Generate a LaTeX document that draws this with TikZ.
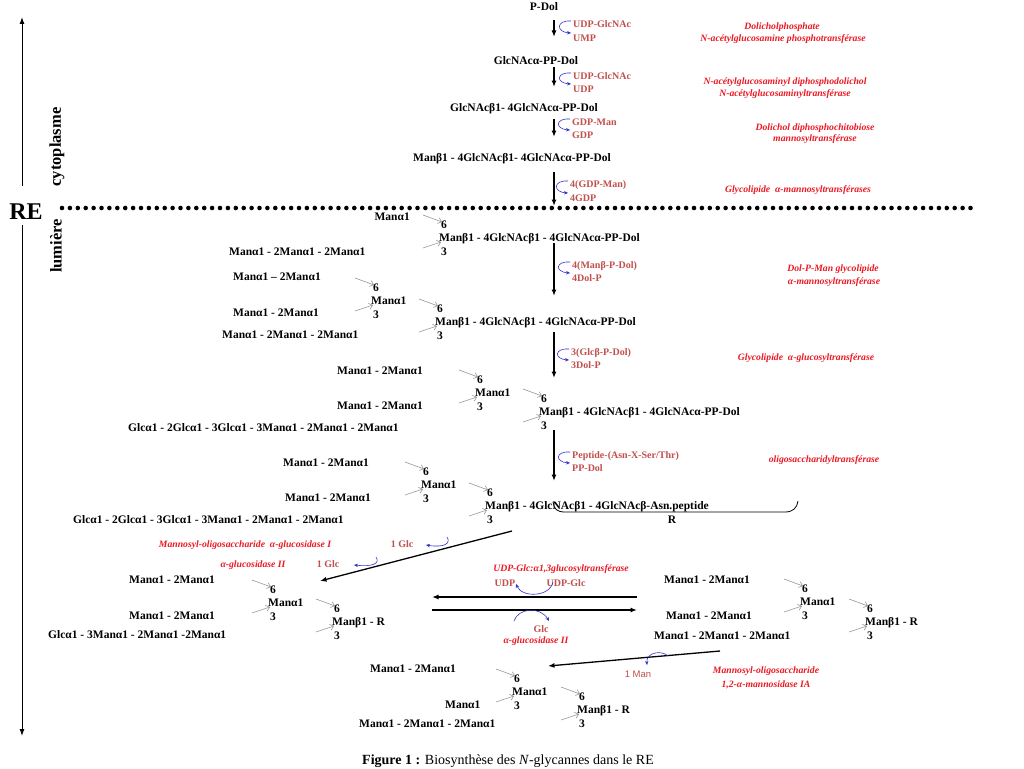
\documentclass[tikz,border=0pt]{standalone}
\usepackage{fontspec}
\setmainfont{Liberation Serif}
\newfontfamily\arialfont{Liberation Sans}
\usetikzlibrary{arrows.meta}
\definecolor{brn}{RGB}{192,80,77}
\definecolor{enzred}{RGB}{235,25,35}
\definecolor{cblue}{RGB}{50,50,205}
\definecolor{cgray}{RGB}{150,150,150}
\tikzset{
 blk/.style={font=\bfseries\fontsize{11.5}{13}\selectfont, inner sep=0pt},
 bl/.style={blk, anchor=base west},
 bc/.style={blk, anchor=base},
 brlab/.style={font=\bfseries\fontsize{10}{12}\selectfont, text=brn, inner sep=0pt, anchor=base west},
 brc/.style={brlab, anchor=base},
 enz/.style={font=\bfseries\itshape\fontsize{9.7}{11}\selectfont, text=enzred, inner sep=0pt, anchor=base},
 garr/.style={draw=cgray, line width=0.6pt, -{Straight Barb[length=3.5pt,width=6pt]}},
 barr/.style={draw=cblue, line width=0.6pt, -{Stealth[length=4pt,width=3.5pt]}},
 karr/.style={draw=black, line width=1.3pt, -{Latex[length=6.5pt,width=5pt]}},
}
\newcommand\branchpt[3]{%
 \node[bl] (#1six) at (#2+2,#3-9) {6};
 \node[bl] (#1three) at (#2+2,#3+18) {3};
 \coordinate (#1ua) at (#2-16,#3-22);
 \coordinate (#1ub) at (#2+3,#3-15);
 \coordinate (#1la) at (#2-16,#3+11);
 \coordinate (#1lb) at (#2+2,#3+5);
 \draw[garr] (#1ua) -- (#1ub);
 \draw[garr] (#1la) -- (#1lb);
}
\newcommand\bcurve[4]{%
 \coordinate (#1s) at (#2,#3-3);
 \coordinate (#1e) at (#2,#4-5);
 \draw[barr] (#1s) .. controls +(-15,-1) and +(-15,-1) .. (#1e);
}
\newcommand\varrow[3]{%
 \coordinate (#1s) at (554,#2);
 \coordinate (#1e) at (554,#3);
 \draw[karr] (#1s) -- (#1e);
}
\begin{document}
\begin{tikzpicture}[x=1pt,y=-1pt]
\useasboundingbox (0,0) rectangle (1024,768);
\fill[white] (0,0) rectangle (1024,768);

% left axis
\coordinate (axtop) at (22,17);
\coordinate (axmidA) at (22,186);
\draw[line width=1pt, -{Latex[length=7pt,width=5pt]}] (axmidA) -- (axtop);
\node[font=\bfseries\fontsize{24}{27}\selectfont, inner sep=0pt] (re) at (26,212) {RE};
\coordinate (axmidB) at (22,225);
\coordinate (axbot) at (22,736);
\draw[line width=1pt, -{Latex[length=7pt,width=5pt]}] (axmidB) -- (axbot);
\node[font=\bfseries\fontsize{16.5}{18}\selectfont, rotate=90, inner sep=0pt] (cyto) at (57,147) {cytoplasme};
\node[font=\bfseries\fontsize{16.5}{18}\selectfont, rotate=90, inner sep=0pt] (lum) at (56,246) {lumière};

% membrane
\coordinate (dl) at (62,208);
\coordinate (dr) at (975,208);
\draw[line width=4.6pt, line cap=round, dash pattern=on 0pt off 7.9pt] (dl) -- (dr);

% top chain
\node[bc] (pdol) at (544,11) {P-Dol};
\node[bc] (t2) at (536,64) {GlcNAcα-PP-Dol};
\node[bc] (t3) at (524,111) {GlcNAcβ1- 4GlcNAcα-PP-Dol};
\node[bc] (t4) at (512,161) {Manβ1 - 4GlcNAcβ1- 4GlcNAcα-PP-Dol};

\varrow{a1}{20}{37}
\varrow{a2}{67}{87}
\varrow{a3}{119}{137}
\varrow{a4}{172}{206}
\varrow{a5}{243}{296}
\varrow{a6}{332}{378}
\varrow{a7}{430}{481}

\bcurve{b1}{571}{24}{38}
\bcurve{b2}{571}{76}{89}
\bcurve{b3}{570}{122}{135}
\bcurve{b4}{568}{184}{198}
\bcurve{b5}{570}{265}{278}
\bcurve{b6}{569}{352}{365}
\bcurve{b7}{570}{455}{468}

\node[brlab] (c1a) at (573,27.5) {UDP-GlcNAc};
\node[brlab] (c1b) at (573,41.5) {UMP};
\node[brlab] (c2a) at (573,79.5) {UDP-GlcNAc};
\node[brlab] (c2b) at (573,92.5) {UDP};
\node[brlab] (c3a) at (572,125.5) {GDP-Man};
\node[brlab] (c3b) at (572,138.5) {GDP};
\node[brlab] (c4a) at (570,187.5) {4(GDP-Man)};
\node[brlab] (c4b) at (570,201.5) {4GDP};
\node[brlab] (c5a) at (572,268.5) {4(Manβ-P-Dol)};
\node[brlab] (c5b) at (572,281.5) {4Dol-P};
\node[brlab] (c6a) at (571,355.5) {3(Glcβ-P-Dol)};
\node[brlab] (c6b) at (571,368.5) {3Dol-P};
\node[brlab] (c7a) at (572,458.5) {Peptide-(Asn-X-Ser/Thr)};
\node[brlab] (c7b) at (572,471.5) {PP-Dol};

% enzymes
\node[enz] (e1a) at (782,29.5) {Dolicholphosphate};
\node[enz] (e1b) at (783,41.5) {N-acétylglucosamine phosphotransférase};
\node[enz] (e2a) at (785,84.5) {N-acétylglucosaminyl diphosphodolichol};
\node[enz] (e2b) at (785,96.5) {N-acétylglucosaminyltransférase};
\node[enz] (e3a) at (815,130.5) {Dolichol diphosphochitobiose};
\node[enz] (e3b) at (815,141.5) {mannosyltransférase};
\node[enz] (e4) at (798,192.5) {Glycolipide \ α-mannosyltransférases};
\node[enz] (e5a) at (833,271.5) {Dol-P-Man glycolipide};
\node[enz] (e5b) at (834,284.5) {α-mannosyltransférase};
\node[enz] (e6) at (806,360.5) {Glycolipide \ α-glucosyltransférase};
\node[enz] (e7) at (824,462.5) {oligosaccharidyltransférase};

% structure 1
\node[bl, anchor=base east] (s1u) at (410,220) {Manα1};
\node[bl] (s1l) at (229,255) {Manα1 - 2Manα1 - 2Manα1};
\node[bl] (s1c) at (439,241) {Manβ1 - 4GlcNAcβ1 - 4GlcNAcα-PP-Dol};
\branchpt{s1}{439}{237}

% structure 2
\node[bl] (s2u) at (233,280) {Manα1 – 2Manα1};
\node[bl] (s2m) at (233,316) {Manα1 - 2Manα1};
\node[bl] (s2i) at (371,304) {Manα1};
\branchpt{s2i}{371}{300}
\node[bl] (s2c) at (435,325) {Manβ1 - 4GlcNAcβ1 - 4GlcNAcα-PP-Dol};
\branchpt{s2c}{435}{321}
\node[bl] (s2l) at (222,338) {Manα1 - 2Manα1 - 2Manα1};

% structure 3
\node[bl] (s3u) at (337,374) {Manα1 - 2Manα1};
\node[bl] (s3m) at (337,409) {Manα1 - 2Manα1};
\node[bl] (s3i) at (475,396) {Manα1};
\branchpt{s3i}{475}{392}
\node[bl] (s3c) at (539,415) {Manβ1 - 4GlcNAcβ1 - 4GlcNAcα-PP-Dol};
\branchpt{s3c}{539}{411}
\node[bl] (s3l) at (128,431) {Glcα1 - 2Glcα1 - 3Glcα1 - 3Manα1 - 2Manα1 - 2Manα1};

% structure 4
\node[bl] (s4u) at (283,466) {Manα1 - 2Manα1};
\node[bl] (s4m) at (285,501) {Manα1 - 2Manα1};
\node[bl] (s4i) at (421,488) {Manα1};
\branchpt{s4i}{421}{484}
\node[bl] (s4c) at (485,509) {Manβ1 - 4GlcNAcβ1 - 4GlcNAcβ-Asn.peptide};
\branchpt{s4c}{485}{505}
\node[bl] (s4l) at (73,523) {Glcα1 - 2Glcα1 - 3Glcα1 - 3Manα1 - 2Manα1 - 2Manα1};
\coordinate (brL) at (553,502);
\coordinate (brR) at (798,501);
\draw[line width=0.8pt] (brL) .. controls (554,509) and (557,512) .. (565,512) -- (785,512) .. controls (793,512) and (797,508) .. (brR);
\node[bc] (rlab) at (672,523) {R};

% glucosidase step
\coordinate (d1s) at (512,531);
\coordinate (d1e) at (320,581);
\draw[karr] (d1s) -- (d1e);
\coordinate (g1s) at (447,537);
\coordinate (g1e) at (426,545);
\draw[barr] (g1s) .. controls (451,543) and (445,548) .. (g1e);
\coordinate (g2s) at (376,557);
\coordinate (g2e) at (354,565);
\draw[barr] (g2s) .. controls (380,563) and (374,567) .. (g2e);
\node[brc] (glc1) at (402,547.5) {1 Glc};
\node[brc] (glc2) at (328,567.5) {1 Glc};
\node[enz] (e8) at (245,547.5) {Mannosyl-oligosaccharide \ α-glucosidase I};
\node[enz] (e9) at (253,567.5) {α-glucosidase II};

% structure 5
\node[bl] (s5u) at (129,583) {Manα1 - 2Manα1};
\node[bl] (s5m) at (129,619) {Manα1 - 2Manα1};
\node[bl] (s5i) at (268,606) {Manα1};
\branchpt{s5i}{268}{602}
\node[bl] (s5c) at (332,625) {Manβ1 - R};
\branchpt{s5c}{332}{621}
\node[bl] (s5l) at (48,638) {Glcα1 - 3Manα1 - 2Manα1 -2Manα1};

% reversible step
\coordinate (m1s) at (637,597);
\coordinate (m1e) at (432,597);
\draw[karr] (m1s) -- (m1e);
\coordinate (m2s) at (432,610);
\coordinate (m2e) at (637,610);
\draw[karr] (m2s) -- (m2e);
\node[enz] (e10) at (561,571.5) {UDP-Glc:α1,3glucosyltransférase};
\node[brc] (udp) at (505,586.5) {UDP};
\node[brc] (udpglc) at (566,586.5) {UDP-Glc};
\coordinate (u1s) at (553,582);
\coordinate (u1e) at (516,584);
\draw[barr] (u1s) .. controls (550,597) and (522,598) .. (u1e);
\coordinate (u2s) at (514,621);
\coordinate (u2e) at (549,621);
\draw[barr] (u2s) .. controls (518,608) and (540,606) .. (u2e);
\node[brc] (glc3) at (541,632.5) {Glc};
\node[enz] (e11) at (536,643.5) {α-glucosidase II};

% structure 6
\node[bl] (s6u) at (664,583) {Manα1 - 2Manα1};
\node[bl] (s6m) at (666,619) {Manα1 - 2Manα1};
\node[bl] (s6i) at (800,605) {Manα1};
\branchpt{s6i}{800}{601}
\node[bl] (s6c) at (865,625) {Manβ1 - R};
\branchpt{s6c}{865}{621}
\node[bl] (s6l) at (654,639) {Manα1 - 2Manα1 - 2Manα1};

% mannosidase step
\coordinate (d2s) at (720,651);
\coordinate (d2e) at (548,666);
\draw[karr] (d2s) -- (d2e);
\coordinate (k1s) at (668,656);
\coordinate (k1e) at (647,665);
\draw[barr] (k1s) .. controls (662,650) and (646,652) .. (k1e);
\node[brc, font=\arialfont\fontsize{9.5}{11}\selectfont] (man1) at (638,677.5) {1 Man};
\node[enz] (e12a) at (766,673.5) {Mannosyl-oligosaccharide};
\node[enz] (e12b) at (766,687.5) {1,2-α-mannosidase IA};

% structure 7
\node[bl] (s7u) at (370,672) {Manα1 - 2Manα1};
\node[bl] (s7m) at (445,708) {Manα1};
\node[bl] (s7i) at (512,695) {Manα1};
\branchpt{s7i}{512}{691}
\node[bl] (s7c) at (577,713) {Manβ1 - R};
\branchpt{s7c}{577}{709}
\node[bl] (s7l) at (359,727) {Manα1 - 2Manα1 - 2Manα1};

% caption
\node[anchor=base west, inner sep=0pt, font=\fontsize{14}{16}\selectfont] (cap) at (362,764) {\textbf{Figure 1 :} Biosynthèse des \textit{N}-glycannes dans le RE};
\end{tikzpicture}
\end{document}
